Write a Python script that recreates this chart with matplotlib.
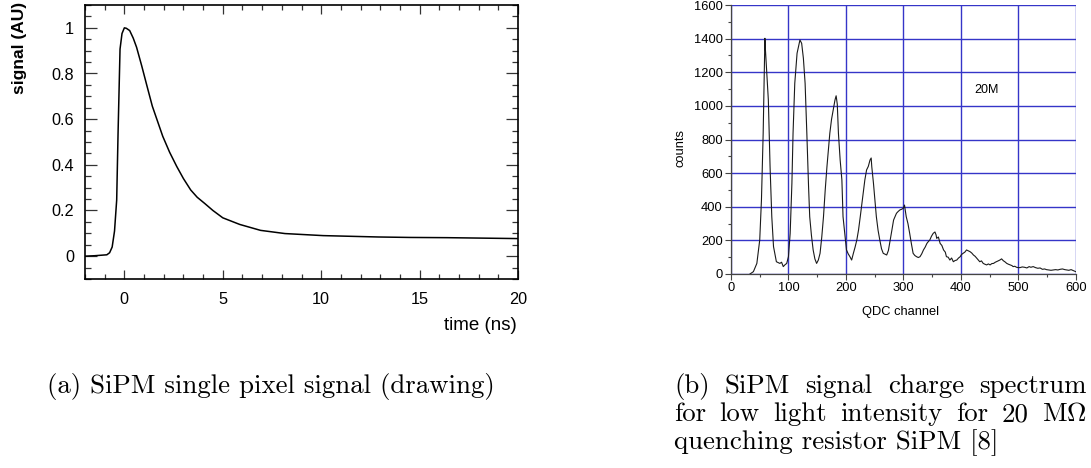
import numpy as np
import matplotlib
matplotlib.use("Agg")
import matplotlib.pyplot as plt
from matplotlib.ticker import MultipleLocator

plt.rcParams['mathtext.fontset'] = 'cm'

# (a) single pixel pulse
t_ns = [-2.0, -1.5, -0.89, -0.75, -0.62, -0.5, -0.39, -0.32, -0.22, -0.12, 0.0, 0.1, 0.27,
        0.45, 0.62, 0.88, 1.15, 1.42, 1.95, 2.3, 2.66, 3.0, 3.37, 3.7, 4.08, 4.5, 5.0,
        5.86, 6.92, 8.16, 10.1, 11.5, 12.9, 14.5, 16.4, 18.2, 20.0]
sig = [0.0, 0.002, 0.006, 0.015, 0.04, 0.11, 0.246, 0.54, 0.907, 0.975, 1.0, 0.998, 0.988,
       0.955, 0.915, 0.834, 0.745, 0.657, 0.525, 0.455, 0.393, 0.34, 0.29, 0.258, 0.231,
       0.2, 0.168, 0.139, 0.113, 0.099, 0.090, 0.087, 0.084, 0.082, 0.081, 0.079, 0.077]

# (b) QDC charge spectrum, 20 MOhm : (channel, counts)
spectrum = [
    (33, 0), (39, 14), (45, 63), (50, 202), (53, 440), (56, 837), (59, 1402), (60, 1330),
    (62, 1214), (65, 1035), (68, 638), (71, 341), (74, 163), (79, 73), (85, 63), (88, 70),
    (91, 44), (94, 55), (97, 63), (100, 103), (103, 242), (106, 539), (108, 837), (111, 1134),
    (115, 1313), (118, 1360), (120, 1392), (123, 1372), (126, 1283), (129, 1134), (132, 837),
    (135, 520), (137, 341), (140, 230), (143, 143), (146, 90), (149, 63), (152, 83), (155, 123),
    (158, 220), (161, 341), (164, 500), (167, 638), (172, 837), (175, 920), (178, 976),
    (181, 1035), (183, 1060), (185, 1010), (187, 837), (190, 678), (193, 560), (195, 341),
    (198, 242), (201, 143), (204, 120), (207, 103), (210, 83), (213, 123), (216, 160),
    (219, 202), (222, 262), (225, 341), (230, 480), (233, 560), (236, 619), (239, 640),
    (242, 678), (244, 690), (245, 640), (248, 539), (253, 341), (256, 260), (259, 202),
    (262, 150), (265, 123), (268, 118), (271, 113), (274, 140), (277, 202), (280, 260),
    (283, 321), (288, 361), (291, 372), (294, 381), (297, 385), (300, 391), (302, 410),
    (305, 341), (308, 300), (311, 242), (314, 180), (317, 123), (320, 110), (323, 103),
    (326, 98), (329, 103), (332, 120), (335, 143), (338, 160), (341, 182), (344, 195),
    (346, 202), (349, 225), (352, 242), (355, 250), (357, 232), (358, 212), (361, 220),
    (364, 182), (367, 170), (370, 143), (373, 130), (375, 103), (378, 100), (381, 83),
    (384, 95), (387, 73), (390, 80), (393, 83), (396, 95), (399, 103), (401, 115),
    (404, 123), (407, 130), (410, 143), (413, 138), (416, 133), (419, 125), (422, 113),
    (425, 105), (428, 93), (431, 80), (433, 73), (436, 78), (439, 63), (442, 58), (445, 54),
    (448, 60), (451, 54), (454, 62), (457, 63), (460, 70), (462, 73), (465, 78), (468, 83),
    (471, 90), (474, 79), (477, 72), (480, 63), (483, 58), (486, 54), (489, 50), (491, 44),
    (494, 46), (497, 40), (500, 38), (503, 38), (507, 42), (511, 40), (515, 36), (519, 44),
    (522, 40), (526, 44), (530, 38), (534, 34), (538, 36), (542, 28), (546, 30), (549, 26),
    (553, 24), (557, 22), (561, 24), (565, 26), (569, 24), (573, 28), (577, 30), (581, 26),
    (584, 24), (588, 22), (592, 26), (596, 20), (600, 14)]
qdc = [p[0] for p in spectrum]
counts = [p[1] for p in spectrum]

cap_a = "(a) SiPM single pixel signal (drawing)"
cap_b = ["(b) SiPM signal charge spectrum",
         r"for low light intensity for 20 M$\Omega$",
         "quenching resistor SiPM [8]"]

W, H = 1091, 468
fig = plt.figure(figsize=(W / 100, H / 100), dpi=100)
sans = ['Liberation Sans', 'DejaVu Sans']
serif = ['cmr10', 'DejaVu Serif']

# ---- left panel (ROOT style)
ax1 = fig.add_axes([85 / W, 1 - 279 / H, 433 / W, 274 / H])
ax1.plot(t_ns, sig, color='black', lw=1.1)
ax1.set_xlim(-2, 20)
ax1.set_ylim(-0.1, 1.1)
ax1.xaxis.set_major_locator(MultipleLocator(5))
ax1.xaxis.set_minor_locator(MultipleLocator(1))
ax1.yaxis.set_minor_locator(MultipleLocator(0.05))
ax1.set_yticks([0, 0.2, 0.4, 0.6, 0.8, 1.0])
ax1.set_yticklabels(['0', '0.2', '0.4', '0.6', '0.8', '1'])
ax1.tick_params(which='both', direction='in', top=True, right=True, width=0.9, color='#333333')
ax1.tick_params(axis='y', which='major', length=8.5, pad=8)
ax1.tick_params(axis='y', which='minor', length=4.5)
ax1.tick_params(axis='x', which='major', length=6.5, pad=9)
ax1.tick_params(axis='x', which='minor', length=3.5)
for s in ax1.spines.values():
    s.set_linewidth(1.2)
for lab in ax1.get_xticklabels() + ax1.get_yticklabels():
    lab.set_family(sans)
    lab.set_fontsize(11.7)
fig.text(20 / W, 1 - 2 / H, "signal (AU)", rotation=90, ha='center', va='top',
         family=sans, fontsize=12.5, fontweight='bold')
fig.text(517 / W, 1 - 325 / H, "time (ns)", ha='right', va='center',
         family=sans, fontsize=13.5)

# ---- right panel (scanned spectrum)
ax2 = fig.add_axes([731 / W, 1 - 274 / H, 344.7 / W, 269 / H])
ax2.set_xlim(0, 600)
ax2.set_ylim(0, 1600)
ax2.xaxis.set_major_locator(MultipleLocator(100))
ax2.xaxis.set_minor_locator(MultipleLocator(50))
ax2.yaxis.set_major_locator(MultipleLocator(200))
ax2.yaxis.set_minor_locator(MultipleLocator(100))
ax2.grid(True, which='major', color='#3535c8', lw=1.0)
ax2.set_axisbelow(True)
ax2.plot(qdc, counts, color='#1a1a1a', lw=0.8)
for side in ['top', 'right']:
    ax2.spines[side].set_visible(False)
for side in ['left', 'bottom']:
    ax2.spines[side].set_color('#444444')
    ax2.spines[side].set_linewidth(0.9)
ax2.tick_params(which='both', direction='out', color='#444444', width=0.8)
ax2.tick_params(which='major', length=4, pad=2)
ax2.tick_params(which='minor', length=2.5)
for lab in ax2.get_xticklabels() + ax2.get_yticklabels():
    lab.set_family(sans)
    lab.set_fontsize(9.3)
ax2.text(445, 1095, "20M", ha='center', va='center', family=sans, fontsize=9)
fig.text(900.7 / W, 1 - 312 / H, "QDC channel", ha='center', va='center',
         family=sans, fontsize=9.3)
fig.text(680.7 / W, 1 - 148 / H, "counts", rotation=90, ha='center', va='center',
         family=sans, fontsize=9.3)

# ---- captions, size fitted to the measured width of caption (a)
fig.canvas.draw()
r = fig.canvas.get_renderer()
ta = fig.text(47 / W, 1 - 393 / H, cap_a, ha='left', va='baseline', family=serif, fontsize=12)
fs = 12 * 448 / ta.get_window_extent(r).width
ta.set_fontsize(fs)

x0, x1 = 674, 1087
for i, line in enumerate(cap_b):
    y = 1 - (393 + 28 * i) / H
    if i == len(cap_b) - 1:
        fig.text(x0 / W, y, line, ha='left', va='baseline', family=serif, fontsize=fs)
        continue
    # justified line: spread the words over the full width
    words = line.split(" ")
    arts = [fig.text(0, y, w_, ha='left', va='baseline', family=serif, fontsize=fs)
            for w_ in words]
    widths = [a.get_window_extent(r).width for a in arts]
    gap = (x1 - x0 - sum(widths)) / (len(words) - 1)
    xx = x0
    for a, wd in zip(arts, widths):
        a.set_x(xx / W)
        xx += wd + gap

fig.savefig("out.png", dpi=100)
